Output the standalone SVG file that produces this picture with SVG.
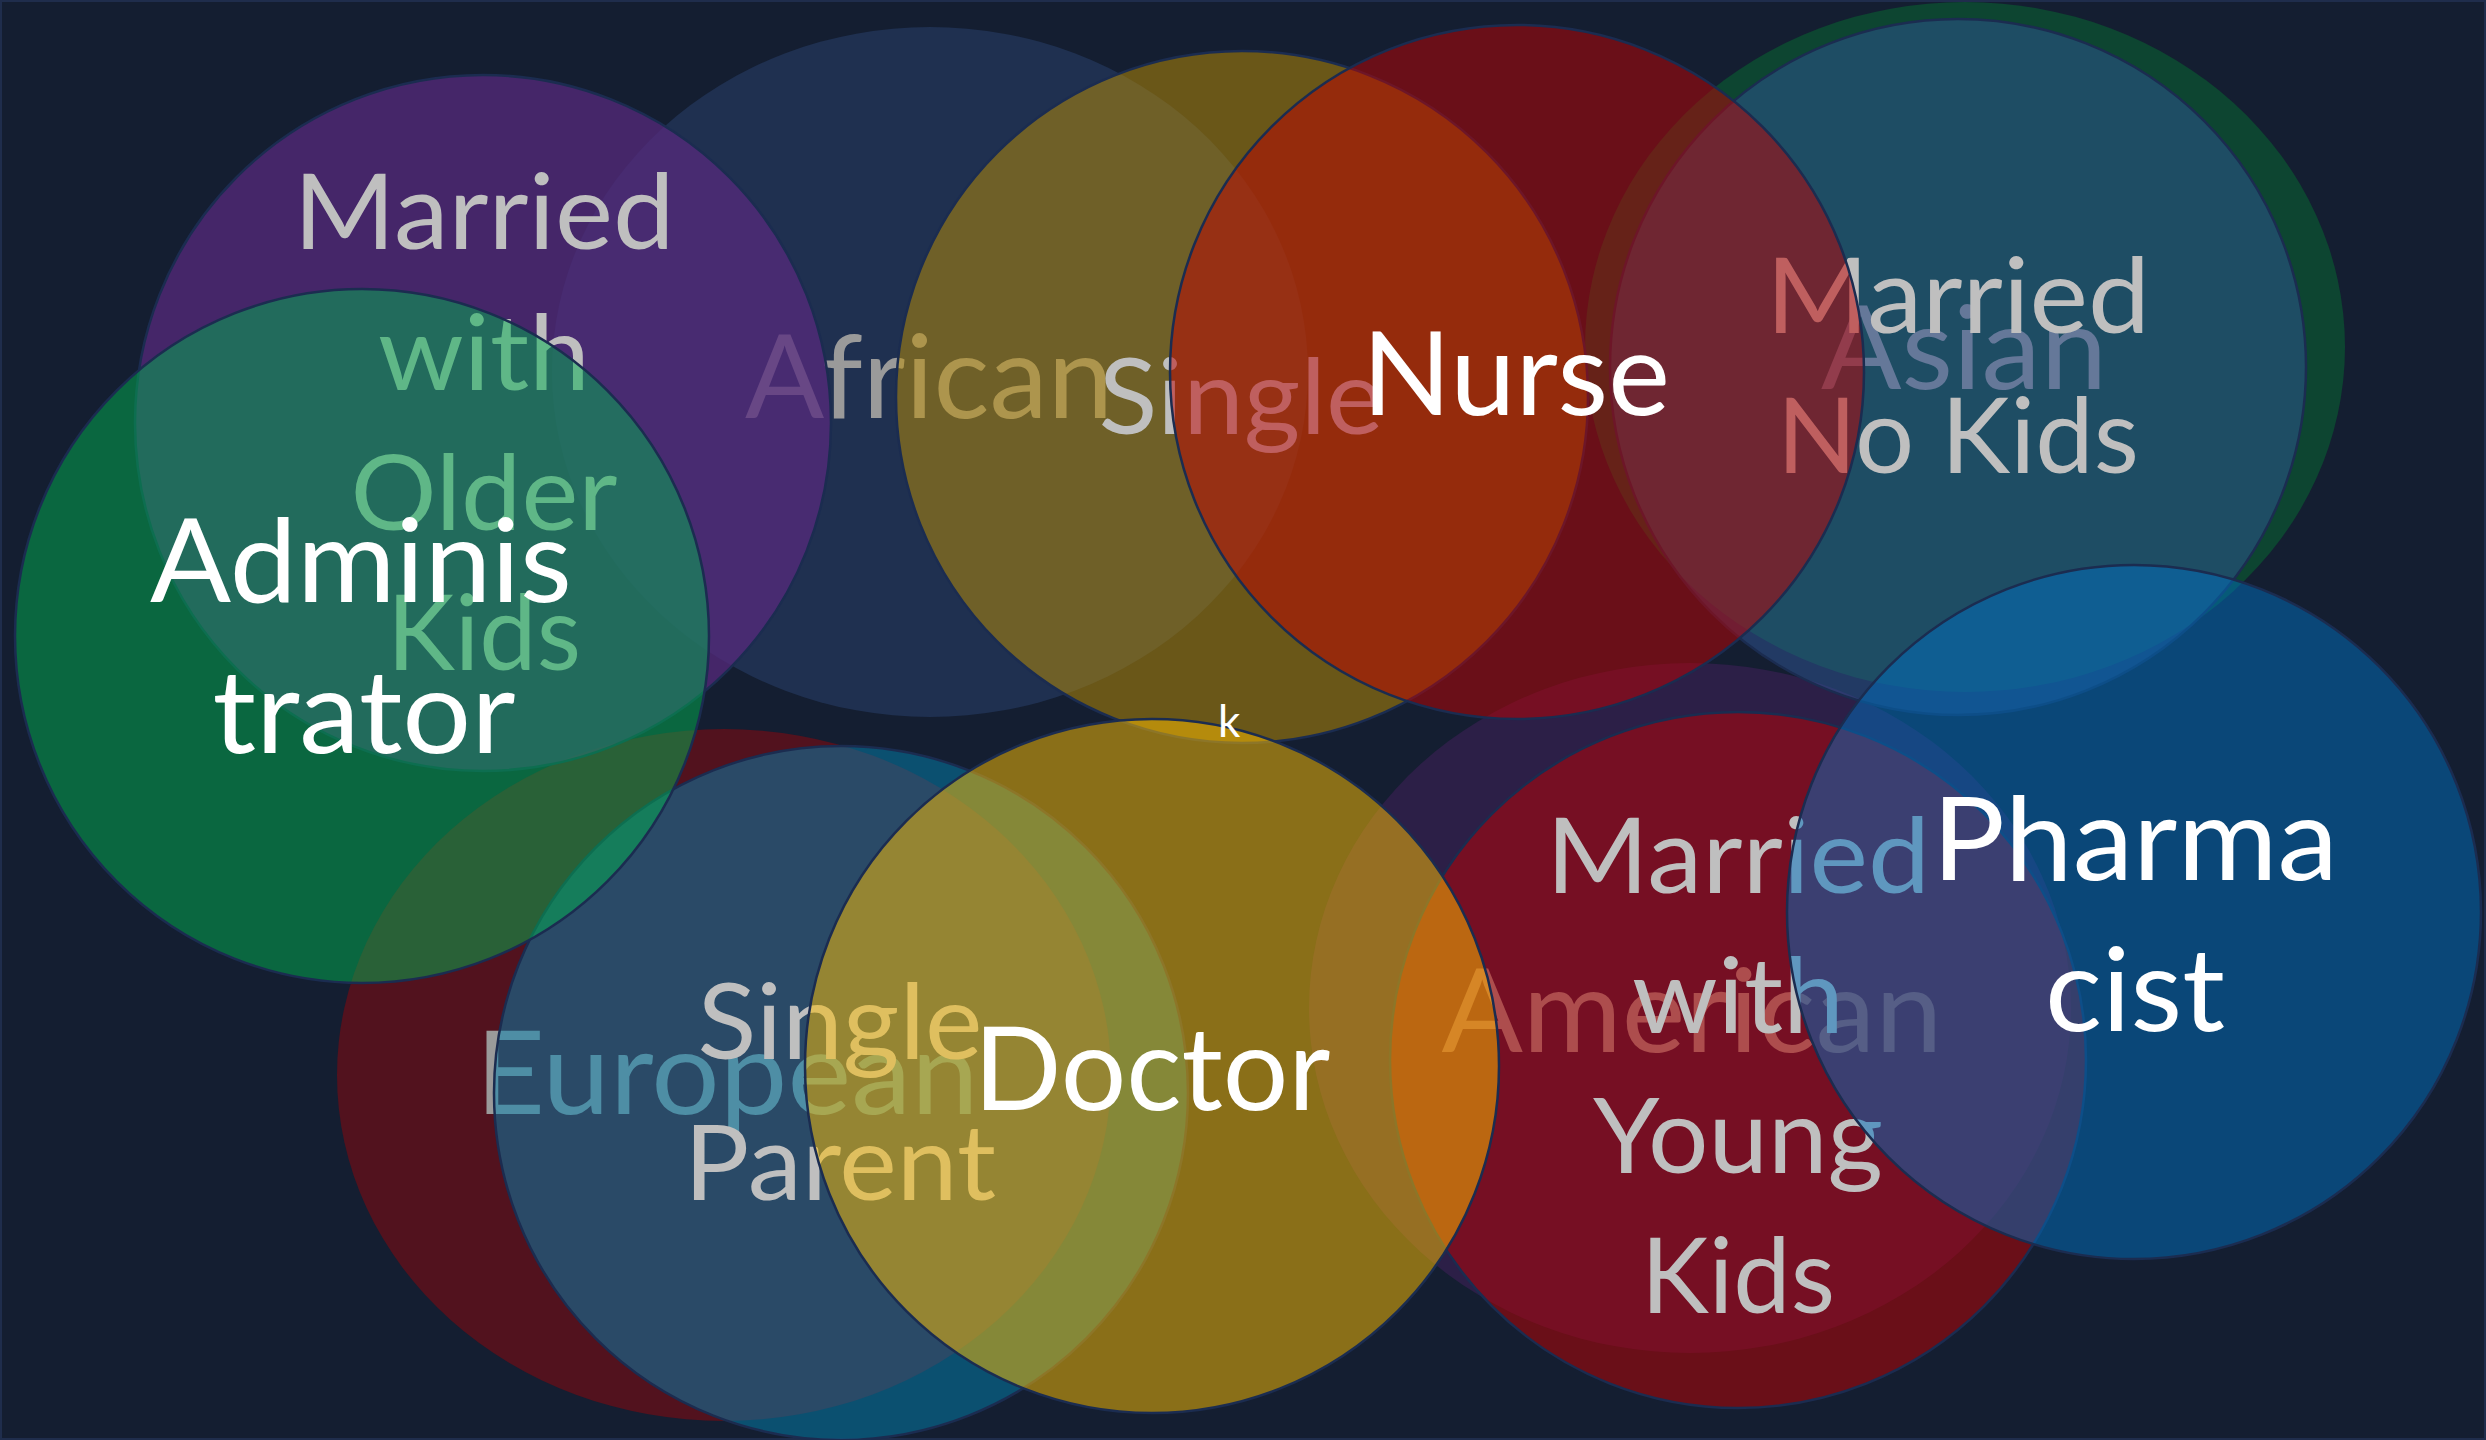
<svg xmlns="http://www.w3.org/2000/svg" width="2486" height="1440" viewBox="0 0 2486 1440">
  <style>
    .fam, .pro { fill-opacity: 0.5; stroke: #1b2c50; stroke-width: 2.5; }
    text { font-family: Lato, "Open Sans", "Liberation Sans", sans-serif; text-anchor: middle; }
    .t-eth { fill: #9a9a9a; font-size: 116px; }
    .t-fam { fill: #bfbfbf; font-size: 104px; }
    .t-pro { fill: #ffffff; font-size: 117px; }
  </style>

  <!-- background -->
  <rect x="0" y="0" width="2486" height="1440" fill="#141e31"/>
  <rect x="1" y="1" width="2484" height="1438" fill="none" stroke="#1f2d4c" stroke-width="2"/>

  <!-- ethnicity ellipses (bottom layer) -->
  <g id="ethnicity">
    <g id="african">
      <ellipse cx="930" cy="372" rx="378" ry="345" fill="#1f3050"/>
      <text class="t-eth" x="929" y="418" textLength="368" lengthAdjust="spacingAndGlyphs">African</text>
    </g>
    <g id="asian">
      <ellipse cx="1965" cy="347" rx="380" ry="345" fill="#0d4531"/>
      <text class="t-eth" x="1964" y="389" textLength="286" lengthAdjust="spacingAndGlyphs">Asian</text>
    </g>
    <g id="european">
      <ellipse cx="724" cy="1075" rx="387" ry="346" fill="#52121e"/>
      <text class="t-eth" x="727" y="1114" textLength="503" lengthAdjust="spacingAndGlyphs">European</text>
    </g>
    <g id="american">
      <ellipse cx="1690" cy="1008" rx="381" ry="345" fill="#2c1f47"/>
      <text class="t-eth" x="1692" y="1052" textLength="501" lengthAdjust="spacingAndGlyphs">American</text>
    </g>
  </g>

  <!-- family status circles (middle layer) -->
  <g id="family">
    <g id="married-older-kids">
      <circle class="fam" cx="483" cy="423" r="348" fill="#562a7e" style="fill-opacity:0.74"/>
      <text class="t-fam" x="484" y="249" textLength="381" lengthAdjust="spacingAndGlyphs">Married</text>
      <text class="t-fam" x="484" y="390" textLength="212" lengthAdjust="spacingAndGlyphs">with</text>
      <text class="t-fam" x="484" y="530" textLength="267" lengthAdjust="spacingAndGlyphs">Older</text>
      <text class="t-fam" x="484" y="670" textLength="194" lengthAdjust="spacingAndGlyphs">Kids</text>
    </g>
    <g id="single">
      <circle class="fam" cx="1242" cy="397" r="346" fill="#bf9000"/>
      <text class="t-fam" x="1241" y="434" textLength="285" lengthAdjust="spacingAndGlyphs">Single</text>
    </g>
    <g id="married-no-kids">
      <circle class="fam" cx="1958" cy="367" r="348" fill="#2f5597"/>
      <text class="t-fam" x="1958" y="333" textLength="384" lengthAdjust="spacingAndGlyphs">Married</text>
      <text class="t-fam" x="1958" y="473" textLength="362" lengthAdjust="spacingAndGlyphs">No Kids</text>
    </g>
    <g id="single-parent">
      <circle class="fam" cx="841" cy="1093" r="347" fill="#0282b0"/>
      <text class="t-fam" x="840" y="1059" textLength="285" lengthAdjust="spacingAndGlyphs">Single</text>
      <text class="t-fam" x="840" y="1200" textLength="312" lengthAdjust="spacingAndGlyphs">Parent</text>
    </g>
    <g id="married-young-kids">
      <circle class="fam" cx="1738" cy="1060" r="348" fill="#c00000"/>
      <text class="t-fam" x="1738" y="893" textLength="384" lengthAdjust="spacingAndGlyphs">Married</text>
      <text class="t-fam" x="1738" y="1033" textLength="212" lengthAdjust="spacingAndGlyphs">with</text>
      <text class="t-fam" x="1738" y="1173" textLength="290" lengthAdjust="spacingAndGlyphs">Young</text>
      <text class="t-fam" x="1738" y="1313" textLength="194" lengthAdjust="spacingAndGlyphs">Kids</text>
    </g>
  </g>

  <!-- profession circles (top layer) -->
  <g id="profession">
    <g id="administrator">
      <circle class="pro" cx="362" cy="636" r="347" fill="#00b050"/>
      <text class="t-pro" x="361" y="602" textLength="422" lengthAdjust="spacingAndGlyphs">Adminis</text>
      <text class="t-pro" x="364" y="753" textLength="303" lengthAdjust="spacingAndGlyphs">trator</text>
    </g>
    <g id="nurse">
      <circle class="pro" cx="1517" cy="372" r="347" fill="#c00000"/>
      <text class="t-pro" x="1516" y="415" textLength="308" lengthAdjust="spacingAndGlyphs">Nurse</text>
    </g>
    <g id="doctor">
      <circle class="pro" cx="1152" cy="1066" r="347" fill="#ffc000"/>
      <text class="t-pro" x="1152" y="1110" textLength="357" lengthAdjust="spacingAndGlyphs">Doctor</text>
    </g>
    <g id="pharmacist">
      <circle class="pro" cx="2134" cy="912" r="347" fill="#0070c0"/>
      <text class="t-pro" x="2135" y="880" textLength="406" lengthAdjust="spacingAndGlyphs">Pharma</text>
      <text class="t-pro" x="2135" y="1031" textLength="180" lengthAdjust="spacingAndGlyphs">cist</text>
    </g>
  </g>

  <!-- loose label -->
  <text x="1218" y="737" fill="#ffffff" font-size="44" style="text-anchor:start">k</text>
</svg>
